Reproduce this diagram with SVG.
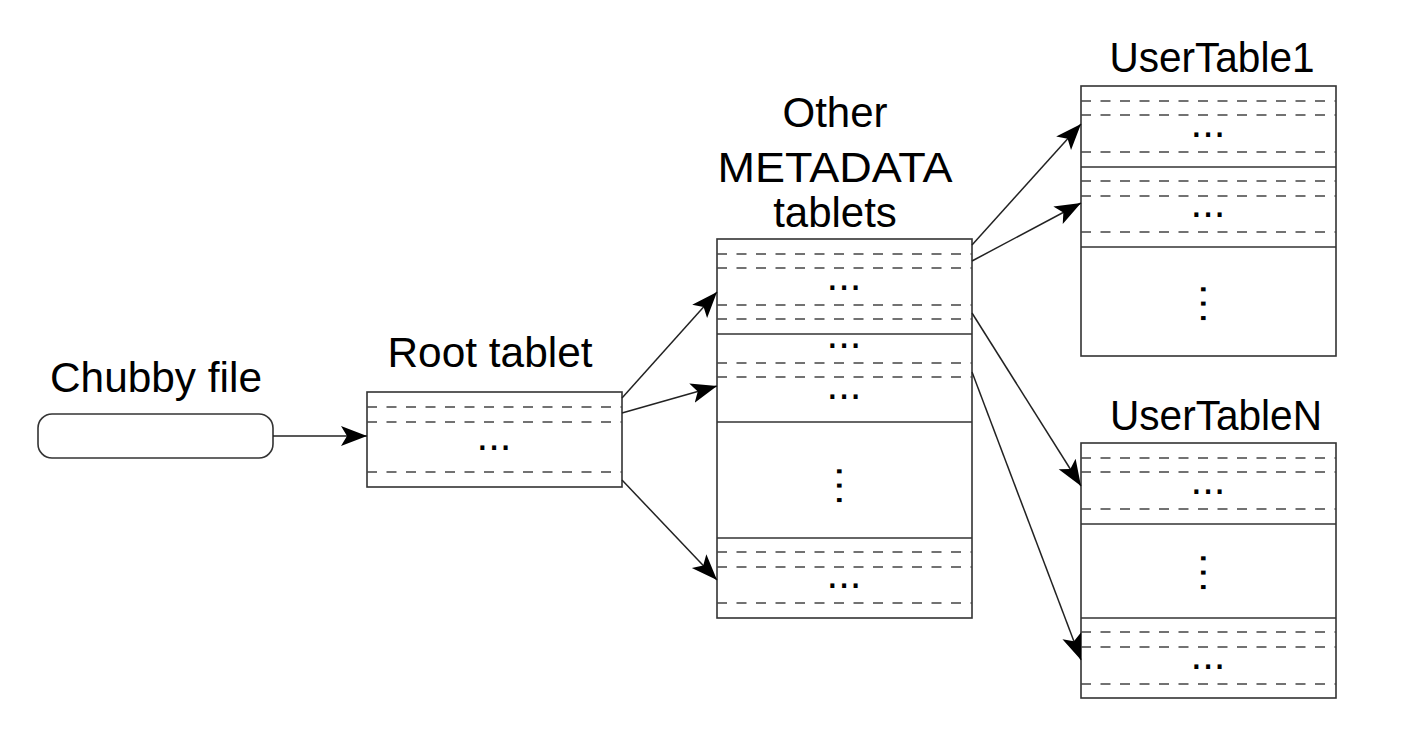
<svg xmlns="http://www.w3.org/2000/svg" width="1408" height="742" viewBox="0 0 1408 742">
<defs>
<style>
.box{fill:#fff;stroke:#333;stroke-width:1.6}
.sep{stroke:#333;stroke-width:1.6}
.dash{stroke:#444;stroke-width:1.6;stroke-dasharray:10 9.5}
.lbl{font-family:"Liberation Sans",Arial,sans-serif;font-size:42px;fill:#000;text-anchor:middle}
.dots{font-family:"Liberation Sans",Arial,sans-serif;font-size:42px;fill:#000;text-anchor:middle}
.vdots{font-family:"Liberation Sans",Arial,sans-serif;font-size:42px;fill:#000;text-anchor:middle;letter-spacing:2.6px}
.conn{stroke:#222;stroke-width:1.5;fill:none;marker-end:url(#ah)}
</style>
<marker id="ah" markerUnits="userSpaceOnUse" markerWidth="28" markerHeight="22" refX="26" refY="10" orient="auto" viewBox="0 0 28 20">
<path d="M0,0 L26,10 L0,20 L6,10 Z" fill="#000"/>
</marker>
</defs>
<rect width="1408" height="742" fill="#fff"/>

<g id="chubby">
<text class="lbl" x="156" y="392" textLength="212" lengthAdjust="spacingAndGlyphs">Chubby file</text>
<rect class="box" x="38" y="414" width="235" height="44" rx="14" ry="14"/>
</g>

<g id="root">
<text class="lbl" x="490" y="367" textLength="205" lengthAdjust="spacingAndGlyphs">Root tablet</text>
<rect class="box" x="367" y="392" width="255" height="95"/>
<line class="dash" x1="367" y1="407" x2="622" y2="407"/>
<line class="dash" x1="367" y1="422" x2="622" y2="422"/>
<line class="dash" x1="367" y1="472" x2="622" y2="472"/>
<text class="dots" x="494" y="450">...</text>
</g>

<g id="metadata">
<text class="lbl" x="835" y="127">Other</text>
<text class="lbl" x="835" y="182" textLength="235" lengthAdjust="spacingAndGlyphs">METADATA</text>
<text class="lbl" x="835" y="227">tablets</text>
<rect class="box" x="717" y="239" width="255" height="379"/>
<line class="dash" x1="717" y1="254" x2="972" y2="254"/>
<line class="dash" x1="717" y1="268" x2="972" y2="268"/>
<text class="dots" x="844" y="290">...</text>
<line class="dash" x1="717" y1="305" x2="972" y2="305"/>
<line class="dash" x1="717" y1="319" x2="972" y2="319"/>
<line class="sep" x1="717" y1="334" x2="972" y2="334"/>
<text class="dots" x="844" y="348">...</text>
<line class="dash" x1="717" y1="363" x2="972" y2="363"/>
<line class="dash" x1="717" y1="377" x2="972" y2="377"/>
<text class="dots" x="844" y="399">...</text>
<line class="sep" x1="717" y1="422" x2="972" y2="422"/>
<text class="vdots" transform="translate(837,487) rotate(90)">...</text>
<line class="sep" x1="717" y1="538" x2="972" y2="538"/>
<line class="dash" x1="717" y1="552" x2="972" y2="552"/>
<line class="dash" x1="717" y1="567" x2="972" y2="567"/>
<text class="dots" x="844" y="588">...</text>
<line class="dash" x1="717" y1="603" x2="972" y2="603"/>
</g>

<g id="usertable1">
<text class="lbl" x="1212" y="72" textLength="205" lengthAdjust="spacingAndGlyphs">UserTable1</text>
<rect class="box" x="1081" y="86" width="255" height="270"/>
<line class="dash" x1="1081" y1="101" x2="1336" y2="101"/>
<line class="dash" x1="1081" y1="115" x2="1336" y2="115"/>
<text class="dots" x="1208" y="137">...</text>
<line class="dash" x1="1081" y1="152" x2="1336" y2="152"/>
<line class="sep" x1="1081" y1="167" x2="1336" y2="167"/>
<line class="dash" x1="1081" y1="181" x2="1336" y2="181"/>
<line class="dash" x1="1081" y1="196" x2="1336" y2="196"/>
<text class="dots" x="1208" y="217">...</text>
<line class="dash" x1="1081" y1="232" x2="1336" y2="232"/>
<line class="sep" x1="1081" y1="247" x2="1336" y2="247"/>
<text class="vdots" transform="translate(1201,305) rotate(90)">...</text>
</g>

<g id="usertableN">
<text class="lbl" x="1216" y="430" textLength="212" lengthAdjust="spacingAndGlyphs">UserTableN</text>
<rect class="box" x="1081" y="443" width="255" height="255"/>
<line class="dash" x1="1081" y1="458" x2="1336" y2="458"/>
<line class="dash" x1="1081" y1="472" x2="1336" y2="472"/>
<text class="dots" x="1208" y="494">...</text>
<line class="dash" x1="1081" y1="509" x2="1336" y2="509"/>
<line class="sep" x1="1081" y1="524" x2="1336" y2="524"/>
<text class="vdots" transform="translate(1201,574) rotate(90)">...</text>
<line class="sep" x1="1081" y1="618" x2="1336" y2="618"/>
<line class="dash" x1="1081" y1="632" x2="1336" y2="632"/>
<line class="dash" x1="1081" y1="647" x2="1336" y2="647"/>
<text class="dots" x="1208" y="669">...</text>
<line class="dash" x1="1081" y1="684" x2="1336" y2="684"/>
</g>

<g id="connectors">
<line class="conn" x1="273" y1="436" x2="367" y2="436"/>
<line class="conn" x1="622" y1="398" x2="717" y2="292"/>
<line class="conn" x1="622" y1="413" x2="717" y2="386"/>
<line class="conn" x1="622" y1="480" x2="717" y2="580"/>
<line class="conn" x1="972" y1="245" x2="1081" y2="124"/>
<line class="conn" x1="972" y1="261" x2="1081" y2="203"/>
<line class="conn" x1="972" y1="313" x2="1081" y2="486"/>
<line class="conn" x1="972" y1="372" x2="1081" y2="660"/>
</g>
</svg>
